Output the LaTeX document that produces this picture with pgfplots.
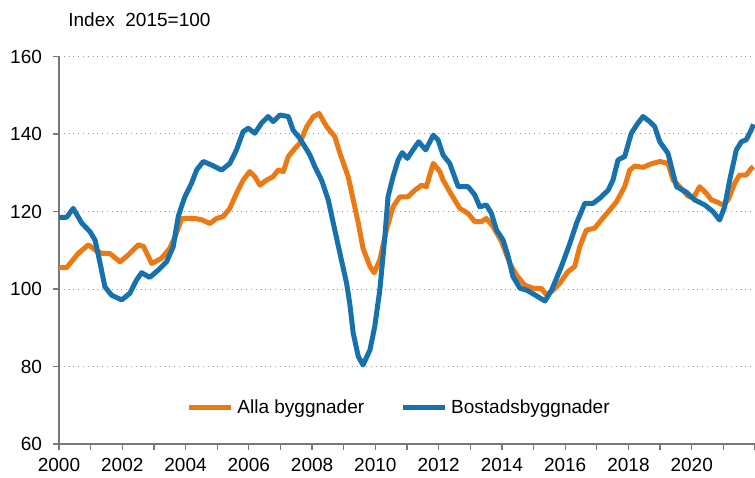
\documentclass[border=0pt]{standalone}
\usepackage{fontspec}
\setmainfont{Liberation Sans}
\usepackage{pgfplots}
\pgfplotsset{compat=1.18}
\definecolor{cOrange}{RGB}{235,122,20}
\definecolor{cBlue}{RGB}{22,113,172}
\definecolor{axgray}{RGB}{120,120,120}
\begin{document}
\begin{tikzpicture}
\begin{axis}[
  name=ax,
  scale only axis,
  width=348pt, height=193.75pt,
  xmin=2000, xmax=2022, ymin=60, ymax=160,
  xtick={2000,2001,...,2022},
  xticklabels={2000,,2002,,2004,,2006,,2008,,2010,,2012,,2014,,2016,,2018,,2020,,},
  ytick={60,80,...,160},
  /pgf/number format/assume math mode=true,
  ticklabel style={font=\fontsize{9.5}{11}\selectfont, text=black},
  axis x line*=bottom, axis y line*=left,
  axis line style={axgray, line width=0.8pt, -},
  tick style={axgray, line width=0.6pt},
  tick align=outside,
  major tick length=3pt,
  ymajorgrids,
  grid style={dotted, gray!80, line width=0.5pt},
  xticklabel style={yshift=-0.5pt},
  yticklabel style={xshift=-2pt},
  clip=false,
  legend style={at={(0.49,0.093)}, anchor=center, draw=none, fill=none,
    font=\fontsize{9.5}{11}\selectfont, legend columns=2,
    /tikz/every even column/.append style={column sep=16pt}},
  legend image code/.code={\draw[#1, line width=2.5pt] (0pt,0pt) -- (21pt,0pt);},
  every axis plot/.append style={line width=2.5pt, line join=round},
]
\addplot[cOrange, mark=none] coordinates {
(2000.00,105.5) (2000.24,105.5) (2000.61,109.2) (2000.93,111.4) (2001.14,110.1)
(2001.35,109.2) (2001.60,109.2) (2001.93,107.0) (2002.19,108.8) (2002.51,111.4)
(2002.67,111.0) (2002.93,106.6) (2003.24,107.9) (2003.50,110.5) (2003.67,113.5)
(2003.88,118.2) (2004.30,118.2) (2004.50,117.9) (2004.77,116.9) (2004.98,118.2)
(2005.19,118.7) (2005.40,120.8) (2005.61,124.7) (2005.82,128.1) (2006.03,130.3)
(2006.19,129.0) (2006.35,126.8) (2006.56,128.1) (2006.77,129.0) (2006.93,130.7)
(2007.09,130.3) (2007.25,134.2) (2007.46,136.3) (2007.61,137.6) (2007.83,141.9)
(2008.04,144.5) (2008.22,145.3) (2008.46,141.9) (2008.72,139.3) (2008.88,135.0)
(2009.14,129.0) (2009.30,123.0) (2009.46,117.0) (2009.61,110.5) (2009.83,105.8)
(2009.96,104.2) (2010.14,107.5) (2010.35,115.2) (2010.56,121.2) (2010.77,123.8)
(2011.03,123.8) (2011.25,125.5) (2011.46,126.8) (2011.61,126.4) (2011.83,132.4)
(2012.04,130.3) (2012.14,128.1) (2012.38,124.7) (2012.67,120.8) (2012.93,119.5)
(2013.14,117.4) (2013.35,117.4) (2013.51,118.2) (2013.72,116.1) (2013.99,112.2)
(2014.25,106.6) (2014.46,103.6) (2014.72,101.0) (2014.99,100.2) (2015.25,100.1)
(2015.41,98.5) (2015.62,99.7) (2015.83,101.5) (2016.09,104.5) (2016.30,105.8)
(2016.46,110.9) (2016.67,115.2) (2016.93,115.7) (2017.14,117.8) (2017.41,120.4)
(2017.62,122.5) (2017.88,126.4) (2018.04,130.7) (2018.20,131.7) (2018.46,131.4)
(2018.72,132.3) (2018.99,132.9) (2019.25,132.4) (2019.41,128.1) (2019.57,126.8)
(2019.88,124.0) (2020.05,123.5) (2020.25,126.4) (2020.46,124.7) (2020.62,123.0)
(2020.78,122.5) (2020.99,121.7) (2021.15,123.0) (2021.36,127.3) (2021.51,129.4)
(2021.72,129.4) (2021.88,131.1) (2021.95,131.6)
};
\addlegendentry{Alla byggnader}
\addplot[cBlue, mark=none] coordinates {
(2000.00,118.5) (2000.24,118.5) (2000.45,120.8) (2000.72,117.0) (2000.98,114.8)
(2001.14,112.6) (2001.30,106.6) (2001.45,100.6) (2001.66,98.4) (2001.98,97.2)
(2002.24,98.9) (2002.45,102.3) (2002.61,104.2) (2002.87,103.0) (2003.14,104.9)
(2003.40,107.0) (2003.61,110.9) (2003.77,118.7) (2003.88,121.5) (2003.98,123.8)
(2004.19,127.3) (2004.35,130.7) (2004.56,132.9) (2004.82,132.0) (2005.14,130.7)
(2005.40,132.4) (2005.61,135.9) (2005.82,140.6) (2005.98,141.5) (2006.19,140.2)
(2006.40,142.8) (2006.61,144.5) (2006.77,143.2) (2006.98,144.9) (2007.25,144.5)
(2007.40,141.0) (2007.61,138.9) (2007.93,134.6) (2008.09,131.5) (2008.30,128.1)
(2008.51,123.0) (2008.67,117.0) (2008.88,109.2) (2009.09,101.5) (2009.19,96.3)
(2009.30,88.6) (2009.46,82.6) (2009.61,80.4) (2009.83,84.3) (2009.98,90.3)
(2010.14,99.7) (2010.30,113.5) (2010.40,123.8) (2010.56,129.0) (2010.72,133.3)
(2010.85,135.2) (2011.01,133.7) (2011.19,135.9) (2011.37,138.0) (2011.59,135.9)
(2011.83,139.7) (2011.98,138.5) (2012.14,134.6) (2012.35,132.4) (2012.62,126.4)
(2012.93,126.4) (2013.14,124.3) (2013.30,121.2) (2013.51,121.7) (2013.67,119.5)
(2013.83,115.2) (2014.04,112.6) (2014.20,108.3) (2014.35,103.2) (2014.57,100.2)
(2014.78,99.7) (2015.04,98.5) (2015.36,96.9) (2015.57,99.7) (2015.88,105.8)
(2016.15,111.8) (2016.36,117.0) (2016.62,122.1) (2016.88,122.1) (2017.09,123.4)
(2017.36,125.5) (2017.51,128.1) (2017.67,133.3) (2017.88,134.2) (2018.09,140.2)
(2018.30,142.8) (2018.46,144.5) (2018.67,143.2) (2018.83,141.9) (2018.99,138.0)
(2019.25,135.0) (2019.41,129.8) (2019.52,126.4) (2019.83,125.0) (2020.09,123.0)
(2020.41,121.7) (2020.67,120.0) (2020.88,117.8) (2021.04,121.2) (2021.20,128.1)
(2021.41,135.9) (2021.57,138.0) (2021.72,138.5) (2021.88,141.0) (2021.95,142.5)
};
\addlegendentry{Bostadsbyggnader}
\end{axis}
\node[anchor=west, font=\fontsize{9.5}{11}\selectfont, inner sep=0pt] at ([xshift=4.5pt, yshift=18.25pt]ax.north west) {Index\ \ 2015=100};
\pgfresetboundingbox
\path[use as bounding box] ([xshift=-29.5pt, yshift=-16.5pt]ax.south west) rectangle ([yshift=28.25pt]ax.north east);
\end{tikzpicture}
\end{document}
